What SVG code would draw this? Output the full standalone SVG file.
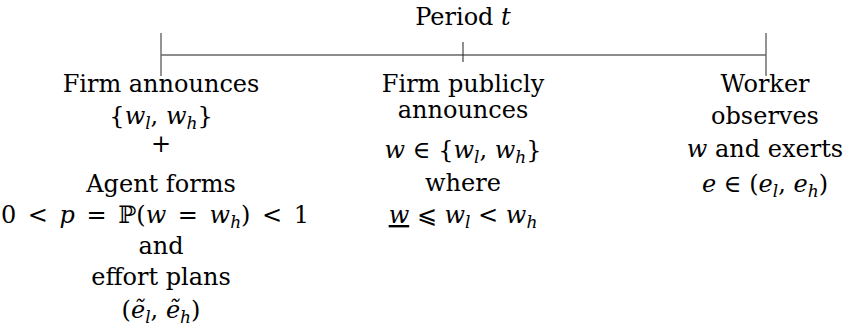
<svg xmlns="http://www.w3.org/2000/svg" width="850" height="335" viewBox="0 0 850 335">
<style>
.t{font-family:"DejaVu Serif","Liberation Serif",serif;font-size:24px;fill:#000;text-anchor:middle}
.i{font-style:italic}
.s{font-size:17px}
.ws{word-spacing:4px}
.ax{stroke:#666;stroke-width:1.4;fill:none}
.tk{stroke:#222;stroke-width:1;fill:none}
</style>
<rect width="850" height="335" fill="#fff"/>
<g id="connectors">
<line class="ax" x1="161" y1="55" x2="766" y2="55"/>
<line class="ax" x1="161" y1="33" x2="161" y2="76"/>
<line class="ax" x1="766" y1="33" x2="766" y2="76"/>
<line class="tk" x1="463" y1="42" x2="463" y2="62"/>
</g>
<g id="period">
<text class="t" x="463" y="25">Period <tspan class="i">t</tspan></text>
</g>
<g id="event1">
<text class="t" x="161" y="92">Firm announces</text>
<text class="t" x="161" y="124">{<tspan class="i">w</tspan><tspan class="s i" dy="5">l</tspan><tspan dy="-5">, </tspan><tspan class="i">w</tspan><tspan class="s i" dy="5">h</tspan><tspan dy="-5">}</tspan></text>
<text class="t" x="161" y="152">+</text>
<text class="t" x="161" y="192">Agent forms</text>
<text class="t ws" x="155" y="223">0 &lt; <tspan class="i">p</tspan> = ℙ(<tspan class="i">w</tspan> = <tspan class="i">w</tspan><tspan class="s i" dy="5">h</tspan><tspan dy="-5">) &lt; 1</tspan></text>
<text class="t" x="161" y="254">and</text>
<text class="t" x="161" y="285">effort plans</text>
<text class="t" x="161" y="318">(<tspan class="i">ẽ</tspan><tspan class="s i" dy="5">l</tspan><tspan dy="-5">, </tspan><tspan class="i">ẽ</tspan><tspan class="s i" dy="5">h</tspan><tspan dy="-5">)</tspan></text>
</g>
<g id="event2">
<text class="t" x="463" y="92">Firm publicly</text>
<text class="t" x="463" y="118">announces</text>
<text class="t" x="463" y="158"><tspan class="i">w</tspan> ∈ {<tspan class="i">w</tspan><tspan class="s i" dy="5">l</tspan><tspan dy="-5">, </tspan><tspan class="i">w</tspan><tspan class="s i" dy="5">h</tspan><tspan dy="-5">}</tspan></text>
<text class="t" x="463" y="191">where</text>
<text class="t" x="463" y="223"><tspan class="i" text-decoration="underline">w</tspan> ⩽ <tspan class="i">w</tspan><tspan class="s i" dy="5">l</tspan><tspan dy="-5"> &lt; </tspan><tspan class="i">w</tspan><tspan class="s i" dy="5">h</tspan></text>
</g>
<g id="event3">
<text class="t" x="765" y="92">Worker</text>
<text class="t" x="765" y="124">observes</text>
<text class="t" x="765" y="157"><tspan class="i">w</tspan> and exerts</text>
<text class="t" x="765" y="192"><tspan class="i">e</tspan> ∈ (<tspan class="i">e</tspan><tspan class="s i" dy="5">l</tspan><tspan dy="-5">, </tspan><tspan class="i">e</tspan><tspan class="s i" dy="5">h</tspan><tspan dy="-5">)</tspan></text>
</g>
</svg>
